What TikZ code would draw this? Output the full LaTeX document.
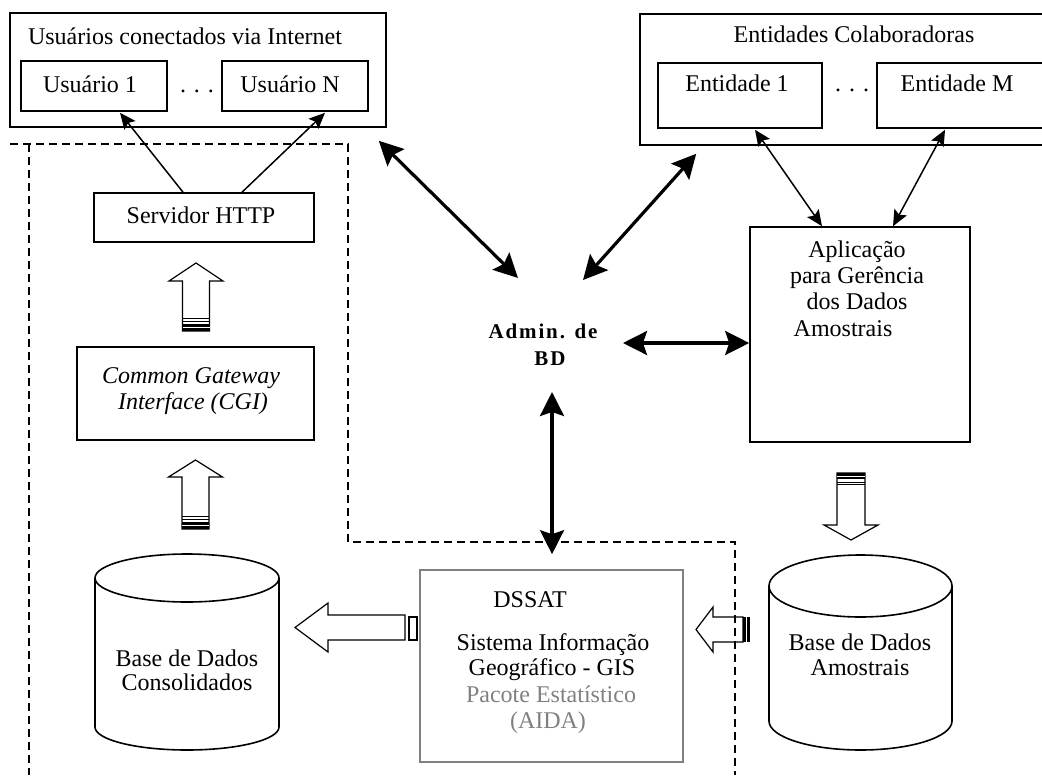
\documentclass[tikz,border=0pt]{standalone}
\usepackage{fontspec}
\setmainfont{Liberation Serif}
\usetikzlibrary{arrows.meta,fit,calc}
\begin{document}
\begin{tikzpicture}[x=0.5pt,y=-0.5pt,
  every node/.style={font=\fontsize{12}{14}\selectfont},
  boxfit/.style={draw, line width=0.8pt, inner sep=0pt},
  txt/.style={anchor=base, inner sep=0pt},
  admfont/.style={font=\fontsize{10.5}{12}\selectfont\bfseries\addfontfeatures{LetterSpace=9}},
  thickarr/.style={line width=1.6pt, {Stealth[length=12pt,width=12pt,inset=2pt]}-{Stealth[length=12pt,width=12pt,inset=2pt]}},
  thinarr/.style={line width=0.75pt, {Stealth[length=8pt,width=7pt,inset=1.5pt]}-{Stealth[length=8pt,width=7pt,inset=1.5pt]}},
  thinsingle/.style={line width=0.75pt, -{Stealth[length=8pt,width=7pt,inset=1.5pt]}},
  hollow/.style={draw, fill=white, line width=0.6pt, line join=miter},
  region/.style={dash pattern=on 4pt off 2.5pt, line width=0.8pt},
  cyl/.style={draw, line width=0.8pt}
]
\useasboundingbox (0,0) rectangle (1042,775);

% ---- Users box
\node[boxfit, fit={(10,13) (386,127)}] (users) {};
\node[boxfit, fit={(21,61) (167,111)}] (u1) {};
\node[boxfit, fit={(222,61) (368,111)}] (uN) {};
\node[txt] (tUsers) at (185,45) {Usuários conectados via Internet};
\node[txt] (tu1) at (90,93) {Usuário 1};
\node[txt] (tuN) at (290,93) {Usuário N};
\node[txt] (dotsU) at (197,93) {. . .};

% ---- Entities box
\node[boxfit, fit={(640,14) (1046,145)}] (ent) {};
\node[boxfit, fit={(658,63) (822,128)}] (e1) {};
\node[boxfit, fit={(877,63) (1044,128)}] (eM) {};
\node[txt] (tEnt) at (854,43) {Entidades Colaboradoras};
\node[txt] (te1) at (737,92) {Entidade 1};
\node[txt] (teM) at (957,92) {Entidade M};
\node[txt] (dotsE) at (852,92) {. . .};

% ---- Servidor HTTP and CGI
\node[boxfit, fit={(94,193) (314,242)}] (srv) {};
\node[txt] (tsrv) at (201,223) {Servidor HTTP};
\node[boxfit, fit={(77,347) (314,440)}] (cgi) {};
\node[txt, font=\fontsize{12}{14}\selectfont\itshape] (tcgi1) at (191,383) {Common Gateway};
\node[txt, font=\fontsize{12}{14}\selectfont\itshape] (tcgi2) at (193,409) {Interface (CGI)};

% ---- Aplicacao
\node[boxfit, fit={(750,227) (970,442)}] (apl) {};
\node[txt] (tapl1) at (857,257) {Aplicação};
\node[txt] (tapl2) at (857,283) {para Gerência};
\node[txt] (tapl3) at (857,309) {dos Dados};
\node[txt] (tapl4) at (843,336) {Amostrais};

% ---- Admin de BD
\node[txt, admfont] (adm1) at (543,338) {Admin. de};
\node[txt, admfont] (adm2) at (550,365) {BD};

% ---- DSSAT
\node[boxfit, draw=black!50, fit={(420,570) (683,762)}] (dssat) {};
\node[txt] (td1) at (530,607) {DSSAT};
\node[txt] (td2) at (553,650) {Sistema Informação};
\node[txt] (td3) at (552,675) {Geográfico - GIS};
\node[txt, text=black!50] (td4) at (551,702) {Pacote Estatístico};
\node[txt, text=black!50] (td5) at (548,728) {(AIDA)};

% ---- Cylinders
\draw[cyl] (95,578) -- (95,727) arc[start angle=180, end angle=360, x radius=46pt, y radius=11.5pt] -- (279,578);
\draw[cyl] (187,578) ellipse [x radius=46pt, y radius=12pt];
\node[txt] (tc1) at (187,666) {Base de Dados};
\node[txt] (tc2) at (187,690) {Consolidados};

\draw[cyl] (769,586) -- (769,721) arc[start angle=180, end angle=360, x radius=45.75pt, y radius=14.5pt] -- (952,586);
\draw[cyl] (860.5,586) ellipse [x radius=45.75pt, y radius=15.5pt];
\node[txt] (ta1) at (860,650) {Base de Dados};
\node[txt] (ta2) at (860,675) {Amostrais};

% ---- thin arrows
\draw[thinsingle] ($(srv.north)+(-21,0)$) -- ($(u1.south)+(26,1)$);
\draw[thinsingle] ($(srv.north)+(38,0)$) -- ($(uN.south)+(30,1)$);
\draw[thinarr] ($(e1.south)+(15,1)$) -- ($(apl.north)+(-38,0)$);
\draw[thinarr] ($(eM.south)+(-15.5,1)$) -- ($(apl.north)+(33,0)$);

% ---- thick arrows to Admin
\draw[thickarr] ($(users.south east)+(-8,13)$) -- ($(adm1.base)+(-25,-60)$);
\draw[thickarr] ($(ent.south west)+(57,8)$) -- ($(adm1.base)+(40,-58)$);
\draw[thickarr] ($(adm1.base)+(80,5)$) -- ($(apl.west)+(0,8.5)$);
\draw[thickarr] ($(adm2.base)+(2,27)$) -- ($(dssat.north)+(0.5,-15)$);

% ---- hollow arrows
% CGI -> Servidor
\path[hollow] (196,263) -- (223,281) -- (209.5,281) -- (209.5,331) -- (182.5,331) -- (182.5,281) -- (169,281) -- cycle;
\fill (182.5,324) rectangle (209.5,331);
\draw[white, line width=0.5pt] (182.5,327.5) -- (209.5,327.5);
\draw[line width=0.5pt] (182.5,318.5) -- (209.5,318.5) (182.5,321) -- (209.5,321);
% Consolidados -> CGI
\path[hollow] (195.5,460) -- (222.5,477) -- (209,477) -- (209,529) -- (182,529) -- (182,477) -- (168.5,477) -- cycle;
\fill (182,522) rectangle (209,529);
\draw[white, line width=0.5pt] (182,525.5) -- (209,525.5);
\draw[line width=0.5pt] (182,516.5) -- (209,516.5) (182,519) -- (209,519);
% Aplicacao -> Amostrais
\path[hollow] (851,540) -- (878,525) -- (865,525) -- (865,473) -- (837,473) -- (837,525) -- (824,525) -- cycle;
\fill (837,473) rectangle (865,479);
\draw[white, line width=0.5pt] (837,476) -- (865,476);
\draw[line width=0.5pt] (837,482) -- (865,482) (837,484.5) -- (865,484.5);
% DSSAT -> Consolidados
\path[hollow] (295,627.5) -- (328,603) -- (328,615) -- (405,615) -- (405,640) -- (328,640) -- (328,652) -- cycle;
\path[hollow] (409,617) rectangle (417,640);
% Amostrais -> DSSAT
\path[hollow] (696,629.5) -- (713,607) -- (713,617) -- (743,617) -- (743,642) -- (713,642) -- (713,652) -- cycle;
\fill (743,617) rectangle (750,642);
\draw[white, line width=0.4pt] (746.5,617) -- (746.5,642);

% ---- dashed region
\draw[region] (10,144) -- (348,144) -- (348,542) -- (735,542) -- (735,775);
\draw[region] (29,144) -- (29,775);
\end{tikzpicture}
\end{document}
